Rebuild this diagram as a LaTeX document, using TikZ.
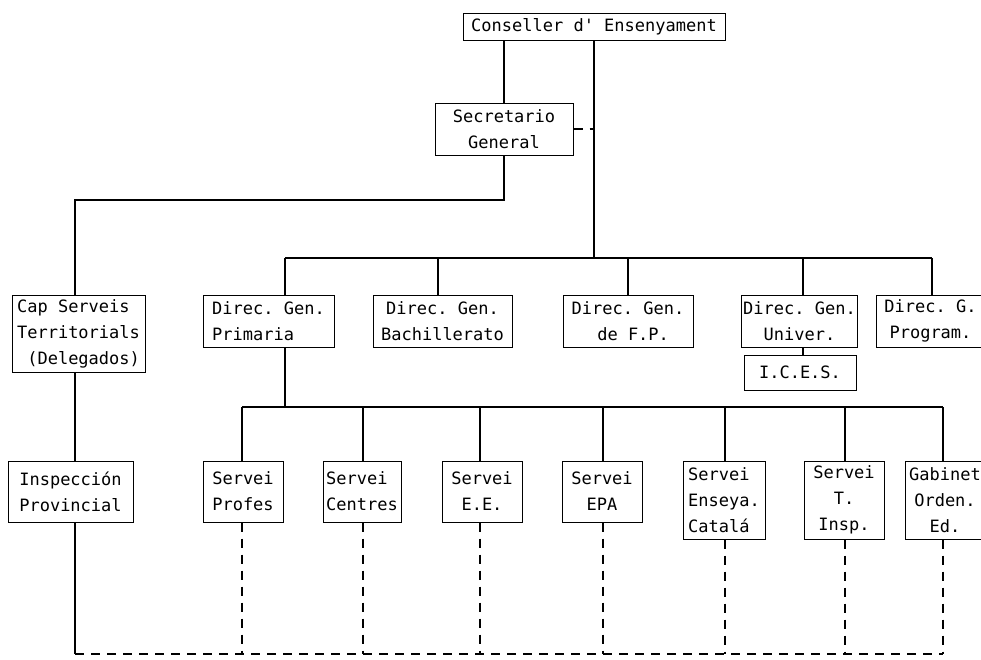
\documentclass[tikz,border=0pt]{standalone}
\usepackage{fontspec}
\setmonofont{DejaVu Sans Mono}
\tikzset{
  unit/.style={draw, line width=1pt, font=\ttfamily\fontsize{17}{26}\selectfont, align=center, inner sep=2pt},
  link/.style={line width=1.3pt},
  dotlink/.style={line width=1.2pt, dash pattern=on 9pt off 7pt},
}
\begin{document}
\begin{tikzpicture}[x=1pt, y=-1pt]
        \useasboundingbox (0,0) rectangle (981,659);
        % top levels
        \node[unit, minimum width=262, minimum height=27] (cons) at (594,26.5) {Conseller d' Ensenyament};
        \node[unit, minimum width=138, minimum height=52] (sec) at (504,129) {Secretario\\General};
        % direcciones generales
        \node[unit, align=left, minimum width=133, minimum height=77] (cap) at (78.5,333.5) {Cap Serveis\\Territorials\\ \ (Delegados)};
        \node[unit, align=left, minimum width=131, minimum height=52] (prim) at (268.5,321) {Direc. Gen.\\Primaria};
        \node[unit, minimum width=139, minimum height=52] (bach) at (442.5,321) {Direc. Gen.\\Bachillerato};
        \node[unit, minimum width=130, minimum height=52] (fp) at (628,321) {Direc. Gen.\\ \ de F.P.};
        \node[unit, minimum width=115, minimum height=52] (univ) at (799.5,321) {Direc. Gen.\\Univer.};
        \node[unit, minimum width=109, minimum height=52] (prog) at (930.5,321) {Direc. G.\\Program.};
        \node[unit, minimum width=112, minimum height=35] (ices) at (800,372.5) {I.C.E.S.};
        % serveis
        \node[unit, minimum width=125, minimum height=61] (insp) at (70.5,491.5) {Inspección\\Provincial};
        \node[unit, align=left, minimum width=80, minimum height=61] (prof) at (243,491.5) {Servei\\Profes};
        \node[unit, align=left, minimum width=78, minimum height=61] (cent) at (362,491.5) {Servei\\Centres};
        \node[unit, minimum width=80, minimum height=61] (ee) at (482,491.5) {Servei\\E.E.};
        \node[unit, minimum width=80, minimum height=61] (epa) at (602,491.5) {Servei\\EPA};
        \node[unit, align=left, minimum width=82, minimum height=78] (cat) at (724,500) {Servei\\Enseya.\\Catalá};
        \node[unit, minimum width=80, minimum height=78] (tins) at (844,500) {Servei\\T.\\Insp.};
        \node[unit, minimum width=80, minimum height=78] (gab) at (945,500) {Gabinet\\Orden.\\Ed.};
        % bar points
        \coordinate (trunk) at (594,258);
        \coordinate (sk) at (75,200);
        \coordinate (dprim) at (285,258);
        \coordinate (dbach) at (438,258);
        \coordinate (dfp) at (628,258);
        \coordinate (duniv) at (803,258);
        \coordinate (dprog) at (932,258);
        \coordinate (sprof) at (242,407);
        \coordinate (scent) at (363,407);
        \coordinate (see) at (480,407);
        \coordinate (sepa) at (603,407);
        \coordinate (scat) at (725,407);
        \coordinate (stins) at (845,407);
        \coordinate (sgab) at (943,407);
        \coordinate (low) at (75,654);
        % solid links
        \draw[link] (cons.south -| sec.north) -- (sec.north);
        \draw[link] (cons.south) -- (trunk);
        \draw[dotlink] (sec.east) -- (sec.east -| cons.south);
        \draw[link] (sec.south) |- (sk) -- (sk |- cap.north);
        \draw[link] (sk |- cap.south) -- (sk |- insp.north);
        \draw[link] (sk |- insp.south) -- (low);
        \draw[link] (dprim) -- (dprog);
        \draw[link] (dprim) -- (dprim |- prim.north);
        \draw[link] (dbach) -- (dbach |- bach.north);
        \draw[link] (dfp) -- (dfp |- fp.north);
        \draw[link] (duniv) -- (duniv |- univ.north);
        \draw[link] (dprog) -- (dprog |- prog.north);
        \draw[link] (duniv |- univ.south) -- (duniv |- ices.north);
        \draw[link] (dprim |- prim.south) -- (dprim |- sprof);
        \draw[link] (sprof) -- (sgab);
        \draw[link] (sprof) -- (sprof |- prof.north);
        \draw[link] (scent) -- (scent |- cent.north);
        \draw[link] (see) -- (see |- ee.north);
        \draw[link] (sepa) -- (sepa |- epa.north);
        \draw[link] (scat) -- (scat |- cat.north);
        \draw[link] (stins) -- (stins |- tins.north);
        \draw[link] (sgab) -- (sgab |- gab.north);
        % dashed links
        \draw[dotlink] (low) -- (low -| sgab);
        \draw[dotlink] (sprof |- prof.south) -- (sprof |- low);
        \draw[dotlink] (scent |- cent.south) -- (scent |- low);
        \draw[dotlink] (see |- ee.south) -- (see |- low);
        \draw[dotlink] (sepa |- epa.south) -- (sepa |- low);
        \draw[dotlink] (scat |- cat.south) -- (scat |- low);
        \draw[dotlink] (stins |- tins.south) -- (stins |- low);
        \draw[dotlink] (sgab |- gab.south) -- (sgab |- low);
    \end{tikzpicture}
\end{document}
